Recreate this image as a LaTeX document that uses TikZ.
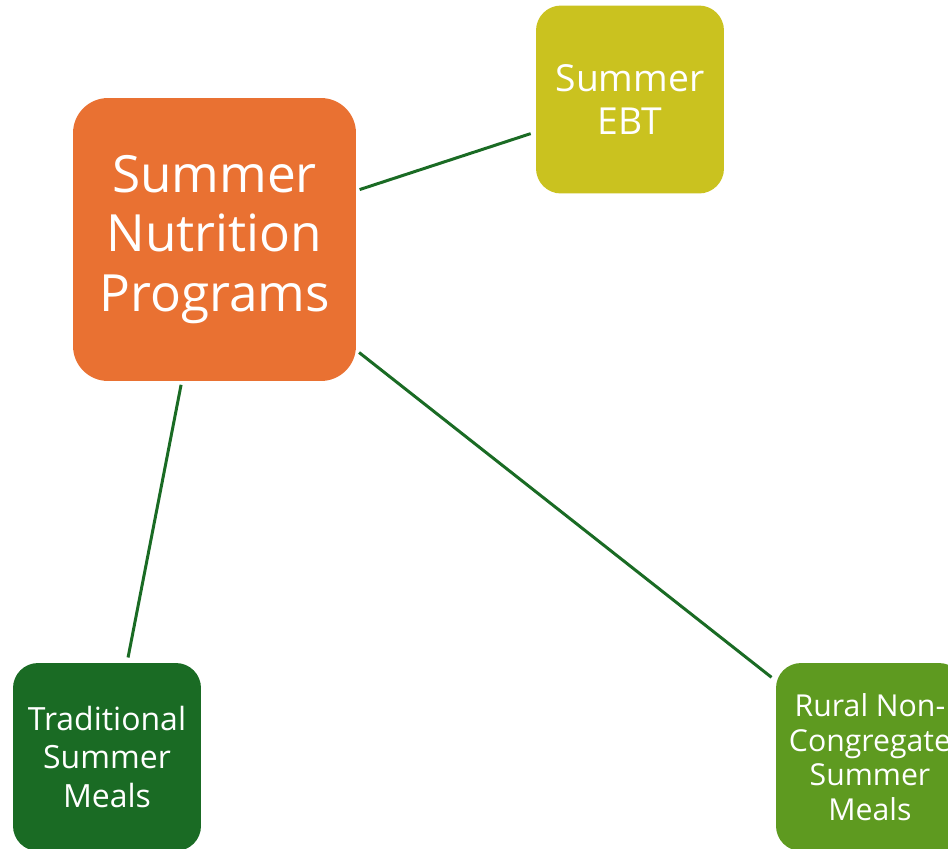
\documentclass[tikz,border=0pt]{standalone}
\usepackage{fontspec}
\setmainfont{Open Sans}
\usetikzlibrary{positioning}
\definecolor{snorange}{HTML}{E97132}
\definecolor{snolive}{HTML}{CAC21F}
\definecolor{sndark}{HTML}{1A6B24}
\definecolor{snleaf}{HTML}{5E9A20}

\begin{document}
\begin{tikzpicture}[x=0.02cm, y=-0.02cm,
  hubbox/.style={rectangle, rounded corners=0.7cm, fill=snorange, text=white, align=center,
    minimum width=5.66cm, minimum height=5.66cm, inner sep=0pt, font=\fontsize{29.2}{34}\selectfont},
  progbox/.style={rectangle, rounded corners=0.5cm, text=white, align=center,
    minimum width=3.76cm, minimum height=3.76cm, inner sep=0pt},
  link/.style={draw=sndark, line width=1.7pt, shorten <=2pt, shorten >=3pt},
]
\useasboundingbox (0,0) rectangle (948,849);
\clip (0,0) rectangle (948,849);

% hub and the three programs
\node[hubbox] (hub) at (214.5,239.5) {Summer\\Nutrition\\Programs};
\node[progbox, fill=snolive, font=\fontsize{21.2}{24.4}\selectfont] (ebt) at (630,99.5) {Summer\\EBT};
\node[progbox, fill=sndark, font=\fontsize{18.2}{21.8}\selectfont] (trad) at (107,757) {Traditional\\Summer\\Meals};
\node[progbox, fill=snleaf, font=\fontsize{17.2}{19.7}\selectfont] (rural) at (870,757) {Rural Non-\\Congregate\\Summer\\Meals};

% links
\draw[link] (hub.19) -- (ebt.199.6);
\draw[link] (hub.-38.7) -- (rural.141.4);
\draw[link] (hub.257.8) -- (trad.78);
\end{tikzpicture}
\end{document}
